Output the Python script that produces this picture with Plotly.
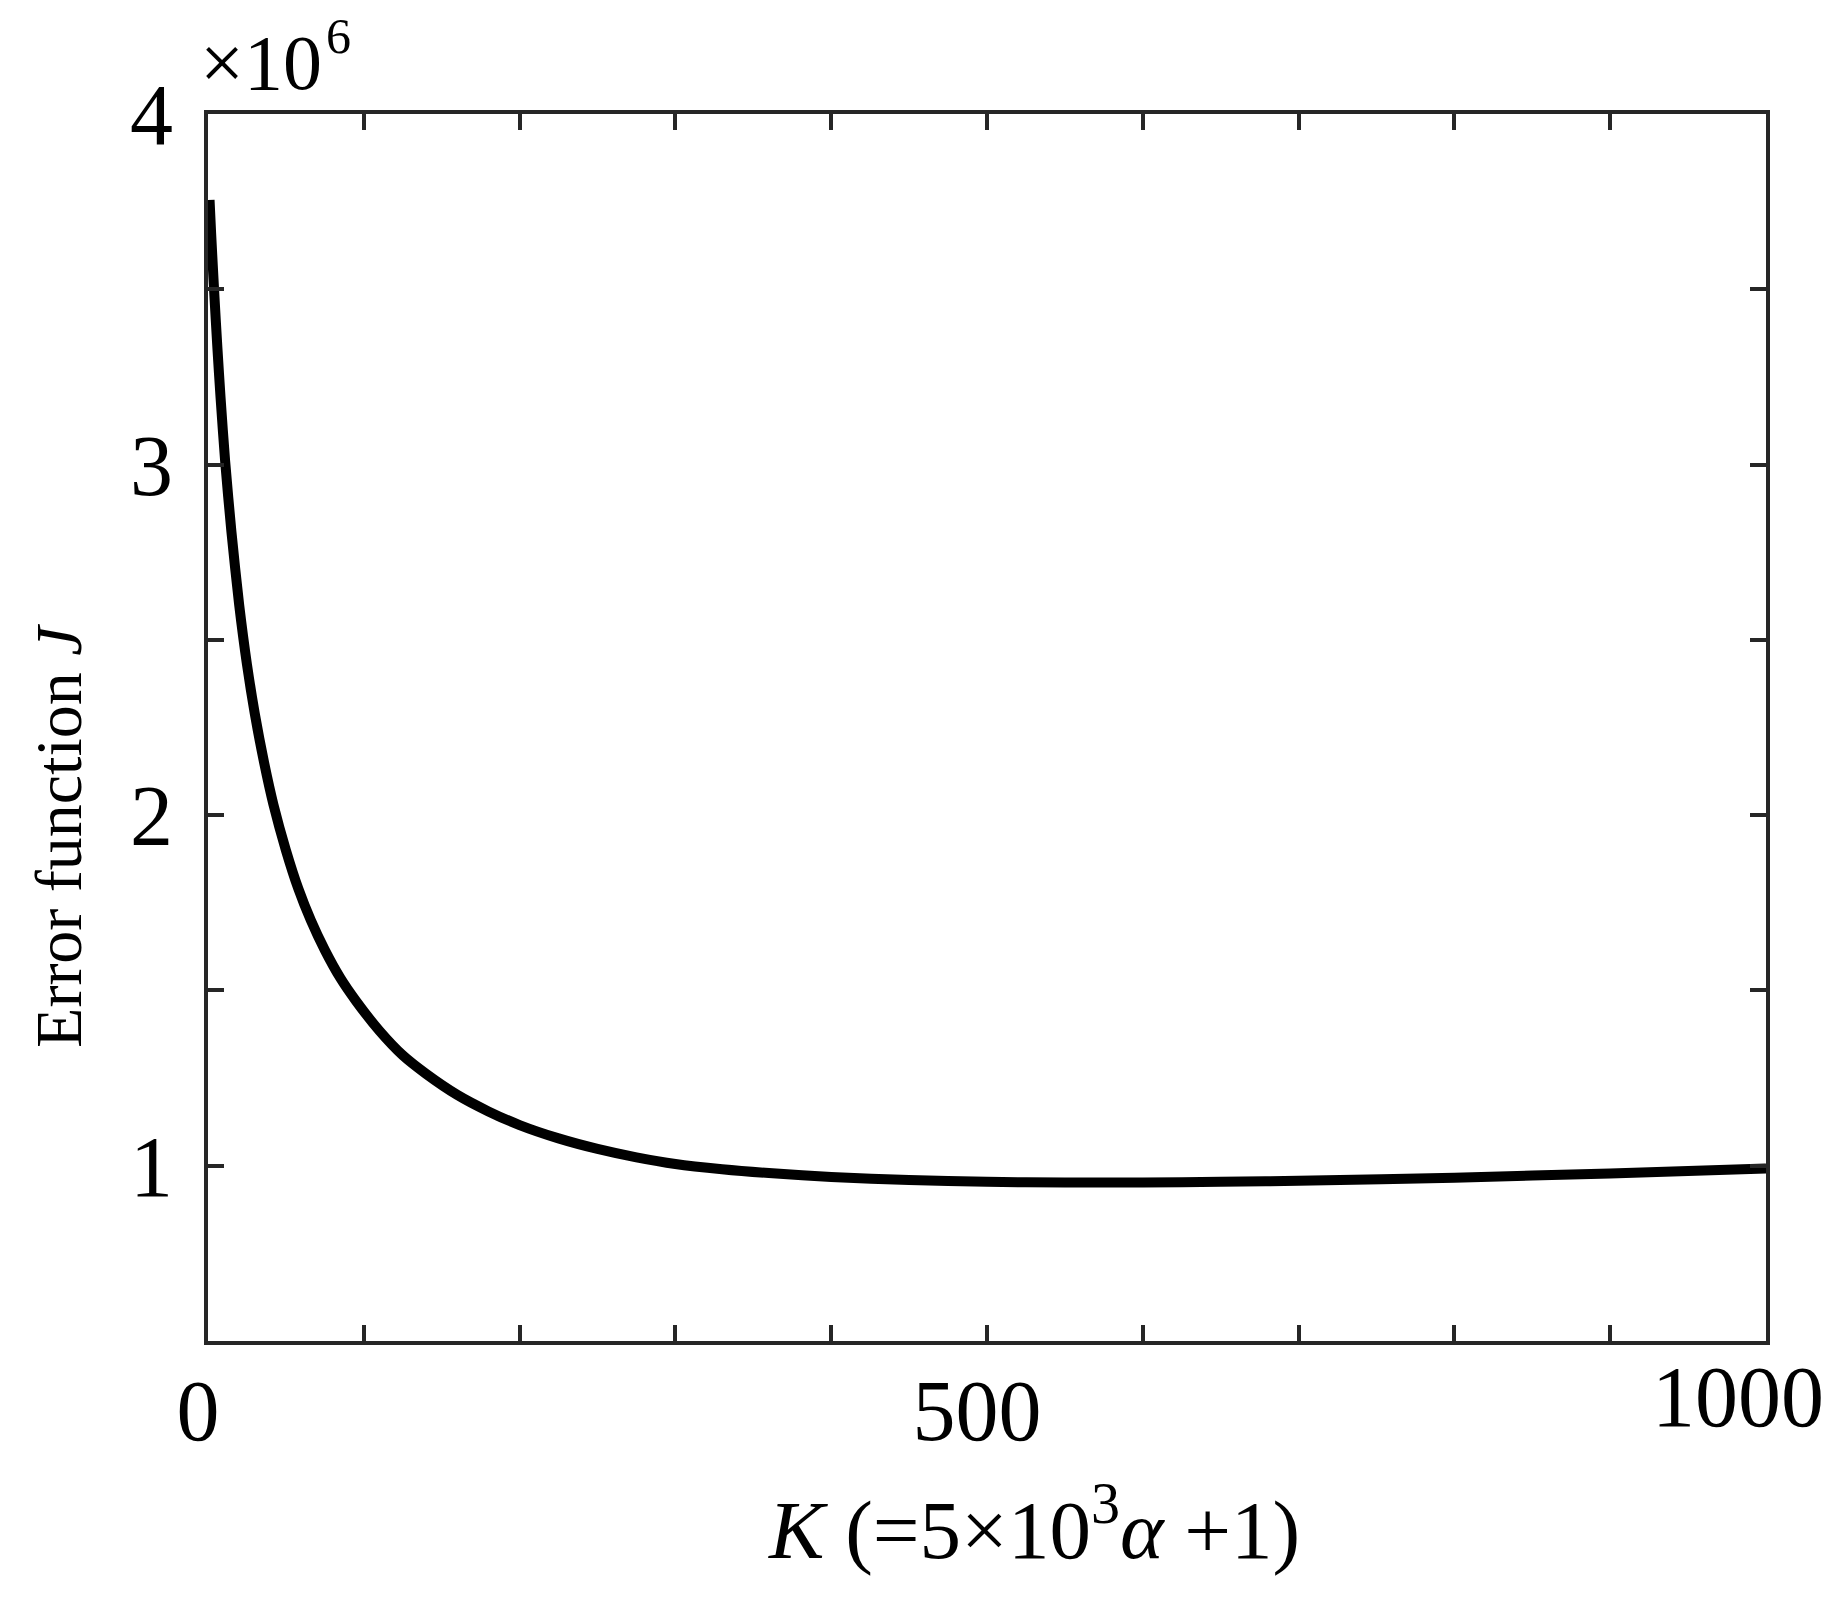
import plotly.graph_objects as go

# K values and error function J (in units of 1e6)
K_VALUES = [1, 2, 4, 6, 8, 11, 15, 20, 25, 30, 36, 42, 50, 58, 66, 75, 85,
            95, 110, 125, 140, 160, 180, 200, 225, 250, 275, 300, 330, 360,
            400, 450, 500, 550, 600, 650, 700, 800, 900, 1000]
J_E6 = [3.755, 3.66, 3.49, 3.335, 3.195, 3.01, 2.81, 2.60, 2.43, 2.29, 2.15,
        2.03, 1.90, 1.79, 1.70, 1.615, 1.535, 1.47, 1.385, 1.315, 1.262, 1.202,
        1.155, 1.116, 1.078, 1.048, 1.024, 1.005, 0.990, 0.979, 0.968, 0.959,
        0.954, 0.952, 0.952, 0.954, 0.957, 0.966, 0.978, 0.992]

X_TICKS = list(range(0, 1001, 100))
X_TICK_TEXT = ["0", "", "", "", "", "500", "", "", "", "", ""]
X_EDGE_LABEL = "1000"
Y_TICKS = [0.5, 1.0, 1.5, 2.0, 2.5, 3.0, 3.5, 4.0]
Y_TICK_TEXT = ["", "1", "", "2", "", "3", "", "4"]
Y_EXPONENT = "6"

FONT = "Liberation Serif, Times New Roman, serif"
FRAME = "#262626"
TICK_SIZE = 86

fig = go.Figure(
    go.Scatter(
        x=K_VALUES, y=J_E6, mode="lines",
        line=dict(color="black", width=10, shape="spline", smoothing=0.8),
        showlegend=False,
    )
)

axis_common = dict(
    showline=True, linecolor=FRAME, linewidth=3.5, mirror="ticks",
    ticks="inside", ticklen=16, tickwidth=3.5, tickcolor=FRAME,
    showgrid=False, zeroline=False,
    tickfont=dict(family=FONT, size=TICK_SIZE, color="black"),
)

fig.update_layout(
    width=1841, height=1601,
    margin=dict(l=200, r=83, t=106, b=268),
    plot_bgcolor="white", paper_bgcolor="white",
    xaxis=dict(
        range=[0, 1000], tickmode="array",
        tickvals=X_TICKS, ticktext=X_TICK_TEXT,
        ticklabelstandoff=-8, ticklabelshift=-10,
        **axis_common,
    ),
    yaxis=dict(
        range=[0.5, 4], tickmode="array",
        tickvals=Y_TICKS, ticktext=Y_TICK_TEXT,
        ticklabelstandoff=14,
        **axis_common,
    ),
    annotations=[
        # axis multiplier, split so the exponent stays inside the page
        dict(
            text="×10", xref="paper", yref="paper",
            x=0, y=1, xanchor="left", yanchor="bottom",
            xshift=-10, yshift=6,
            showarrow=False,
            font=dict(family=FONT, size=78, color="black"),
        ),
        dict(
            text=Y_EXPONENT, xref="paper", yref="paper",
            x=0.0835, y=1, xanchor="center", yanchor="bottom",
            yshift=48,
            showarrow=False,
            font=dict(family=FONT, size=50, color="black"),
        ),
        # last x tick label placed by hand so it is not clipped at the page edge
        dict(
            text=X_EDGE_LABEL, xref="x", yref="paper",
            x=X_TICKS[-1], y=0, xanchor="center", yanchor="top",
            xshift=-28, yshift=-6,
            showarrow=False,
            font=dict(family=FONT, size=TICK_SIZE, color="black"),
        ),
        # axis titles (offset from centre as in the reference)
        dict(
            text="Error function <i>J</i>", xref="paper", yref="paper",
            x=-0.096, y=0.412, xanchor="center", yanchor="middle",
            textangle=-90, showarrow=False,
            font=dict(family=FONT, size=66, color="black"),
        ),
        dict(
            text="<i>K</i> (=5×10<sup>3</sup><i>α</i> +1)",
            xref="paper", yref="paper",
            x=0.530, y=-0.149, xanchor="center", yanchor="middle",
            showarrow=False,
            font=dict(family=FONT, size=83, color="black"),
        ),
    ],
)

fig.write_html("out.html")
